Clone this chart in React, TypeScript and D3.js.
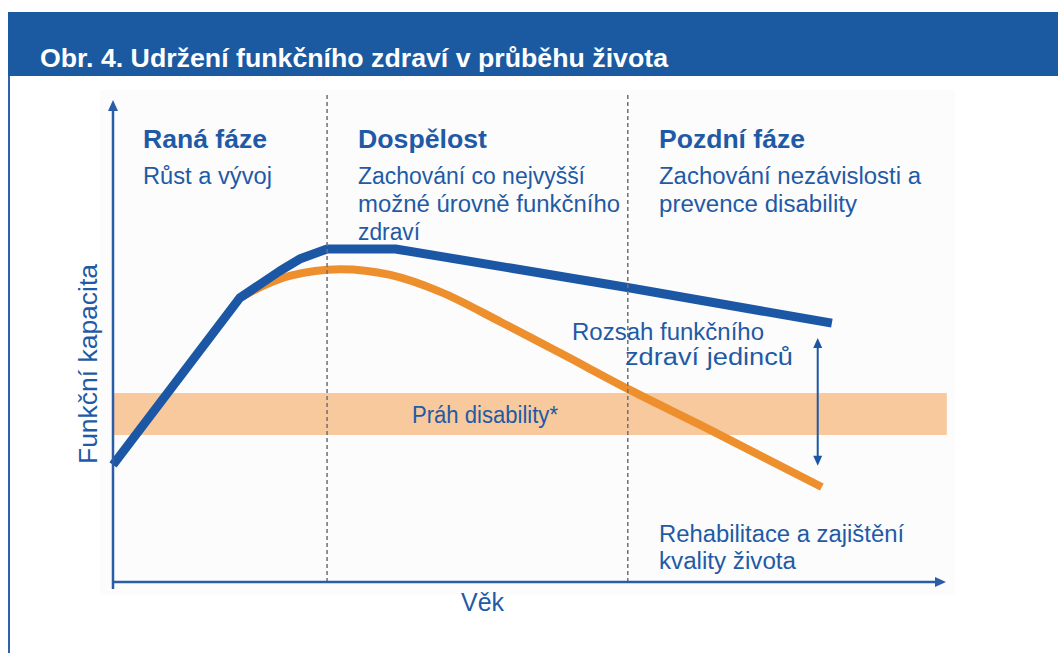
import React from "react";
import * as d3 from "d3";

// ---- data (age units 0..100, capacity units 0..100) ----
const ageBlue = [0, 15.2, 20.0, 22.4, 25.7, 33.9, 62.1, 86.3];
const capBlue = [24.3, 58.9, 64.5, 67.0, 69.1, 69.1, 61.0, 53.7];
const ageOrange = [15.2, 18.2, 21.2, 27.3, 33.3, 39.3, 46.6, 53.7, 62.1, 70.5, 85.1];
const capOrange = [58.9, 61.6, 63.5, 64.9, 63.7, 60.2, 53.9, 47.5, 39.8, 32.6, 19.7];
const phaseBounds = [25.7, 61.8];
const disabilityBand = [30.5, 39.2];
const rangeArrowAge = [84.6];
const rangeArrowCap = [24.1, 50.6];

const phaseTitles = ["Raná fáze", "Dospělost", "Pozdní fáze"];
const phaseLines = [
  ["Růst a vývoj"],
  ["Zachování co nejvyšší", "možné úrovně funkčního", "zdraví"],
  ["Zachování nezávislosti a", "prevence disability"],
];

const W = 1058;
const H = 653;
const BLUE = "#1c57a5";
const TEXT_BLUE = "#1f5aa6";
const ORANGE = "#ee8f2e";
const BAND = "#f7c99c";
const FONT = "'Liberation Sans', Arial, Helvetica, sans-serif";

export default function App() {
  const x = d3.scaleLinear().domain([0, 100]).range([113, 946]);
  const y = d3.scaleLinear().domain([0, 100]).range([582, 100]);

  const blueData = ageBlue.map((a, i) => [a, capBlue[i]] as [number, number]);
  const orangeData = ageOrange.map((a, i) => [a, capOrange[i]] as [number, number]);

  const blueLine = d3
    .line<[number, number]>()
    .x((d) => x(d[0]))
    .y((d) => y(d[1]))
    .curve(d3.curveLinear);
  const orangeLine = d3
    .line<[number, number]>()
    .x((d) => x(d[0]))
    .y((d) => y(d[1]))
    .curve(d3.curveMonotoneX);

  const axisColor = "#2b5ca6";
  const x0 = x(0);
  const y0 = y(0);
  const xEnd = x(100);
  const yTop = y(100);

  const titleX = [143, 358, 659];
  const titleLen = [124, 129, 146];
  const lineLens = [[129], [227, 262, 62], [262, 198]];
  const lineBase = [184, 212, 240];

  const ax = x(rangeArrowAge[0]);
  const ayTop = y(rangeArrowCap[1]);
  const ayBot = y(rangeArrowCap[0]);

  return (
    <svg
      width={W}
      height={H}
      viewBox={`0 0 ${W} ${H}`}
      style={{ position: "absolute", left: 0, top: 0, background: "#ffffff" }}
      fontFamily={FONT}
    >
      {/* header */}
      <rect x={8} y={12} width={W - 8} height={64} fill="#1b5aa1" />
      <text
        x={40}
        y={67}
        fill="#ffffff"
        fontWeight="bold"
        fontSize={26}
        textLength={628}
        lengthAdjust="spacingAndGlyphs"
      >
        Obr. 4. Udržení funkčního zdraví v průběhu života
      </text>
      <line x1={9} x2={9} y1={76} y2={H} stroke="#2d62ad" strokeWidth={2} />

      {/* faint panel */}
      <rect x={100} y={90} width={855} height={505} fill="#fcfcfc" />

      {/* disability band */}
      <rect
        x={x0}
        y={y(disabilityBand[1])}
        width={x(100.1) - x0}
        height={y(disabilityBand[0]) - y(disabilityBand[1])}
        fill={BAND}
      />

      {/* orange line */}
      <path
        d={orangeLine(orangeData) || ""}
        fill="none"
        stroke={ORANGE}
        strokeWidth={8}
        strokeLinejoin="round"
      />
      {/* blue line */}
      <path
        d={blueLine(blueData) || ""}
        fill="none"
        stroke={BLUE}
        strokeWidth={9}
        strokeLinejoin="round"
      />

      {/* phase boundaries */}
      {phaseBounds.map((b, i) => (
        <line
          key={i}
          x1={x(b)}
          x2={x(b)}
          y1={95}
          y2={y0}
          stroke="#6e7078"
          strokeWidth={1.5}
          strokeDasharray="4 3"
        />
      ))}

      {/* axes */}
      <line x1={x0} x2={x0} y1={y0 + 7} y2={yTop + 8} stroke={axisColor} strokeWidth={2.5} />
      <path d={`M${x0},${yTop} L${x0 - 5},${yTop + 11} L${x0 + 5},${yTop + 11} Z`} fill={axisColor} />
      <line x1={x0} x2={xEnd - 8} y1={y0} y2={y0} stroke={axisColor} strokeWidth={2.5} />
      <path d={`M${xEnd},${y0} L${xEnd - 11},${y0 - 5} L${xEnd - 11},${y0 + 5} Z`} fill={axisColor} />

      {/* double arrow */}
      <line x1={ax} x2={ax} y1={ayTop + 8} y2={ayBot - 8} stroke={BLUE} strokeWidth={2} />
      <path d={`M${ax},${ayTop} L${ax - 4.5},${ayTop + 10} L${ax + 4.5},${ayTop + 10} Z`} fill={BLUE} />
      <path d={`M${ax},${ayBot} L${ax - 4.5},${ayBot - 10} L${ax + 4.5},${ayBot - 10} Z`} fill={BLUE} />

      {/* phase titles and descriptions */}
      {phaseTitles.map((t, i) => (
        <g key={t}>
          <text
            x={titleX[i]}
            y={148}
            fill={TEXT_BLUE}
            fontWeight="bold"
            fontSize={26}
            textLength={titleLen[i]}
            lengthAdjust="spacingAndGlyphs"
          >
            {t}
          </text>
          {phaseLines[i].map((l, j) => (
            <text
              key={j}
              x={titleX[i]}
              y={lineBase[j]}
              fill={TEXT_BLUE}
              fontSize={23.5}
              textLength={lineLens[i][j]}
              lengthAdjust="spacingAndGlyphs"
            >
              {l}
            </text>
          ))}
        </g>
      ))}

      {/* annotations */}
      <text x={572} y={340} fill={TEXT_BLUE} fontSize={23.5} textLength={192} lengthAdjust="spacingAndGlyphs">
        Rozsah funkčního
      </text>
      <text x={625} y={365} fill={TEXT_BLUE} fontSize={23.5} textLength={168} lengthAdjust="spacingAndGlyphs">
        zdraví jedinců
      </text>
      <text x={412} y={423} fill={TEXT_BLUE} fontSize={23.5} textLength={146} lengthAdjust="spacingAndGlyphs">
        Práh disability*
      </text>
      <text x={659} y={542} fill={TEXT_BLUE} fontSize={23.5} textLength={245} lengthAdjust="spacingAndGlyphs">
        Rehabilitace a zajištění
      </text>
      <text x={659} y={569} fill={TEXT_BLUE} fontSize={23.5} textLength={137} lengthAdjust="spacingAndGlyphs">
        kvality života
      </text>

      {/* axis labels */}
      <text x={461} y={611} fill={TEXT_BLUE} fontSize={25} textLength={43} lengthAdjust="spacingAndGlyphs">
        Věk
      </text>
      <text
        transform={`translate(97,464) rotate(-90)`}
        fill={TEXT_BLUE}
        fontSize={26}
        textLength={200}
        lengthAdjust="spacingAndGlyphs"
      >
        Funkční kapacita
      </text>
    </svg>
  );
}
